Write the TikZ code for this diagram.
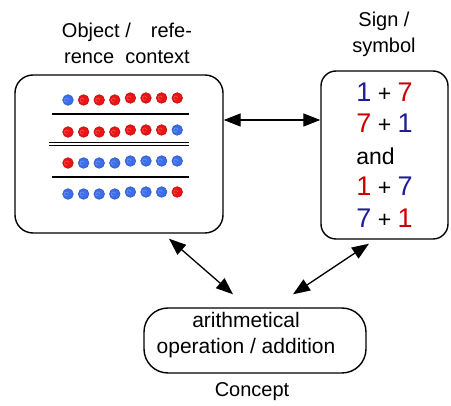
\documentclass[tikz,border=0pt]{standalone}
\usepackage{fontspec}
\setmainfont{Liberation Sans}
\usetikzlibrary{arrows.meta}
\definecolor{dotb}{RGB}{60,110,235}
\definecolor{dotr}{RGB}{235,20,20}
\definecolor{numblue}{RGB}{30,30,150}
\definecolor{numred}{RGB}{205,0,0}
\newcommand{\bdig}[1]{{\fontsize{27}{27}\selectfont\textcolor{numblue}{#1}}}
\newcommand{\rdig}[1]{{\fontsize{27}{27}\selectfont\textcolor{numred}{#1}}}

\begin{document}
\begin{tikzpicture}[x=1pt,y=-1pt,
  box/.style={draw, line width=1.4pt, rounded corners=18pt, inner sep=0pt},
  caption/.style={align=center, font=\fontsize{20}{26}\selectfont},
  link/.style={{Triangle[length=17pt,width=13pt]}-{Triangle[length=17pt,width=13pt]}, line width=1.3pt},
  sep/.style={line width=1.3pt},
  bead/.style={fill=#1, draw=#1!80!black, line width=0.6pt}]
\useasboundingbox (0,0) rectangle (451,406);

\node[caption] (objlabel) at (127,43) {Object /\quad refe-\\rence\ \ context};
\node[caption] (signlabel) at (384,34) {Sign /\\symbol};
\node[caption] (conceptlabel) at (252,392) {Concept};

\node[box, minimum width=208pt, minimum height=158pt] (object) at (119,154) {};
\node[box, rounded corners=15pt, minimum width=127pt, minimum height=168pt,
  align=left, font=\fontsize{23}{31.5}\selectfont] (sign) at (384.5,155)
  {\bdig{1} + \rdig{7}\\ \rdig{7} + \bdig{1}\\ and\\ \rdig{1} + \bdig{7}\\ \bdig{7} + \rdig{1}};
\node[box, rounded corners=24pt, minimum width=222pt, minimum height=65pt] (concept) at (255,340.5) {};
\node[caption, font=\fontsize{21}{26}\selectfont] (concepttext) at (246,335) {arithmetical\\operation / addition};

\foreach \y/\clist in {99/{b,r,r,r,r,r,r,r}, 131/{r,r,r,r,r,r,r,b},
                       162/{r,b,b,b,b,b,b,b}, 193/{b,b,b,b,b,b,b,r}}{
  \foreach \c [count=\i] in \clist {
    \pgfmathsetmacro\bx{52.4+15.6*\i}
    \pgfmathsetmacro\by{\y+ifthenelse(\i<5,1,-1)}
    \fill[bead=dot\c] (\bx,\by) circle (5.3pt);
    \draw[dot\c!70!white, line width=0.5pt] (\bx+0.5,\by) arc (0:300:2pt);
  }
}
\draw[sep] (52,114) -- (189,114);
\draw[line width=0.9pt, double, double distance=1.6pt] (49,144) -- (189,144);
\draw[sep] (52,177) -- (189,177);

\draw[link] ([yshift=34pt]object.east) -- ([yshift=35pt]sign.west);
\draw[link] ([xshift=50pt,yshift=-5pt]object.south) -- ([xshift=-22pt,yshift=13pt]concept.north);
\draw[link] ([xshift=38pt,yshift=13pt]concept.north) -- ([xshift=-15.5pt,yshift=-4pt]sign.south);
\end{tikzpicture}
\end{document}
